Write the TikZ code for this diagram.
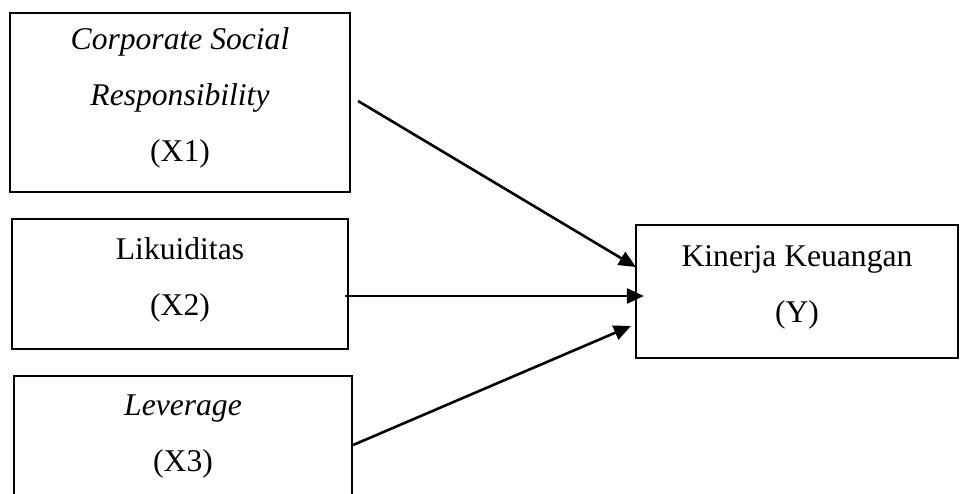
\documentclass[tikz,border=0pt]{standalone}
\usepackage{fontspec}
\setmainfont{Liberation Serif}
\usetikzlibrary{arrows.meta,calc}
\newcommand\lnstrut{\rule[-18pt]{0pt}{42pt}}
\begin{document}
\begin{tikzpicture}[x=1pt,y=-1pt,
  box/.style={draw,line width=2.2pt,inner sep=0pt,align=center,font=\fontsize{31.6}{56}\selectfont},
  arr/.style={line width=2.6pt,-{Triangle[length=17pt,width=15pt]}}]
\clip (0,0) rectangle (960,493);
\useasboundingbox (0,0) rectangle (960,493);
\node[box,minimum width=340pt,minimum height=179pt] (x1) at (180,102.5)
  {\lnstrut\textit{Corporate Social}\\\lnstrut\textit{Responsibility}\\\lnstrut(X1)};
\node[box,minimum width=336pt,minimum height=130pt] (x2) at (180,284)
  {\lnstrut Likuiditas\\\lnstrut(X2)};
\node[box,minimum width=338pt,minimum height=128pt] (x3) at (183,440)
  {\lnstrut\textit{Leverage}\\\lnstrut(X3)};
\node[box,minimum width=322pt,minimum height=133pt] (y) at (797,291.5)
  {\lnstrut Kinerja Keuangan\\\lnstrut(Y)};
\draw[arr] ($(x1.east)+(7,-1.5)$) -- ($(y.west)+(1,-24.5)$);
\draw[arr] ($(x2.east)+(-4,12)$) -- ($(y.west)+(9,4.5)$);
\draw[arr] ($(x3.east)+(0,5)$) -- ($(y.west)+(-4,34.5)$);
\end{tikzpicture}
\end{document}
